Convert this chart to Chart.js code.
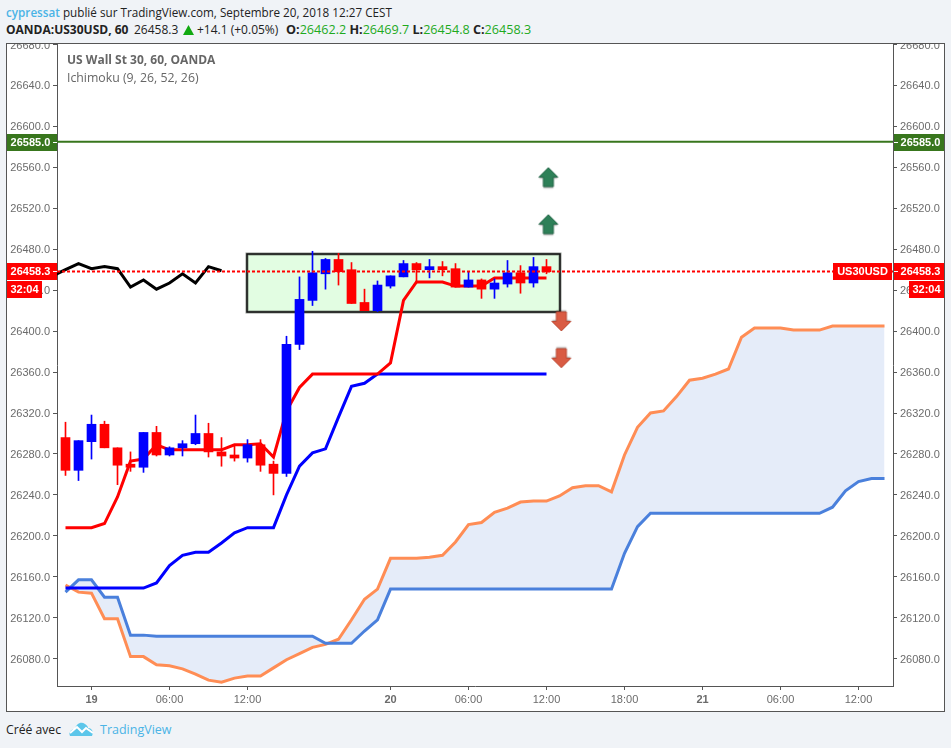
<!DOCTYPE html>
<html>
<head>
<meta charset="utf-8">
<title>US30USD</title>
<script src="https://cdn.jsdelivr.net/npm/chart.js@4"></script>
<style>
  html, body { margin: 0; padding: 0; width: 951px; height: 748px; overflow: hidden; background: #f0f3f7; }
  body { font-family: "Open Sans", sans-serif; color: #222; }
  .abs { position: absolute; white-space: nowrap; }
  #frame { position: absolute; left: 6px; top: 43px; width: 937px; height: 667px; border: 1px solid #555; background: #fff; overflow: hidden; }
  #frame canvas { display: block; margin-top: -20px; }
  .blue { color: #4ab4e6; }
  .green { color: #1eaa1e; }
  b { font-weight: 700; }
</style>
</head>
<body>
<div class="abs" style="left:6px;top:2px;font-size:11.7px;line-height:20px"><span class="blue" style="font-weight:600">cypressat</span> publié sur TradingView.com, Septembre 20, 2018 12:27 CEST</div>
<div class="abs" style="left:6px;top:20px;font-size:12px;line-height:20px"><b>OANDA:US30USD, 60</b>
  <span class="abs" style="left:128px;top:0">26458.3</span>
  <svg class="abs" style="left:177px;top:5px" width="11" height="11"><polygon points="5.5,0 11,10 0,10" fill="#11a911"/></svg>
  <span class="abs" style="left:191px;top:0">+14.1 (+0.05%)</span>
  <span class="abs" style="left:280px;top:0;font-size:12.6px"><b>O:</b><span class="green">26462.2</span> <b>H:</b><span class="green">26469.7</span> <b>L:</b><span class="green">26454.8</span> <b>C:</b><span class="green">26458.3</span></span>
</div>

<div id="frame"><canvas id="chart" width="937" height="687"></canvas></div>

<div class="abs" style="left:67px;top:51px;font-size:12px;line-height:18px;font-weight:700;color:#666">US Wall St 30, 60, OANDA</div>
<div class="abs" style="left:67px;top:69px;font-size:12.3px;line-height:18px;color:#666">Ichimoku (9, 26, 52, 26)</div>

<div class="abs" style="left:6px;top:720px;font-size:12.2px;line-height:20px">Créé avec</div>
<svg class="abs" style="left:69px;top:721px" width="25" height="16" viewBox="0 0 25 16">
  <path d="M1 15 C-1 11 3 8 6 8 C7 3 12 0 16 3 C18 4 19 6 19 7 C23 7 25 11 23 15 Z" fill="#5cc6ea"/>
  <path d="M1 12 L8 6 L13 11 L17 7 L24 12" fill="none" stroke="#fff" stroke-width="2"/>
</svg>
<div class="abs blue" style="left:100px;top:720px;font-size:12.5px;line-height:20px">TradingView</div>

<script>
// hourly bars, index 0 = first candle on the left
var opens  = [26296,26264,26292,26309,26286,26270,26267,26301,26279,26286,26290,26300,26282,26279,26276,26289,26270,26261,26387,26430,26456,26470,26460,26428,26420,26444,26453,26466,26460,26463,26461,26443,26450,26441,26446,26457,26447,26463];
var highs  = [26311,26293,26318,26312,26286,26282,26301,26307,26287,26293,26318,26310,26296,26288,26294,26294,26273,26395,26453,26478,26471,26476,26467,26441,26449,26454,26469,26467,26470,26468,26466,26458,26451,26451,26469,26464,26472,26470];
var lows   = [26259,26254,26275,26286,26250,26263,26262,26278,26278,26278,26289,26277,26268,26273,26272,26263,26240,26258,26382,26425,26441,26445,26427,26420,26419,26442,26453,26447,26452,26454,26443,26443,26432,26432,26443,26437,26443,26456];
var closes = [26264,26293,26309,26286,26269,26267,26301,26279,26286,26290,26300,26282,26278,26276,26289,26269,26261,26387,26431,26457,26470,26458,26427,26420,26445,26454,26466,26460,26463,26460,26443,26450,26441,26447,26457,26447,26463,26458];

// Ichimoku lines
var tenkan = [26208,26208,26208,26212,26238,26273,26275,26289,26284,26284,26284,26284,26284,26289,26289,26290,26277,26322,26345,26358,26358,26358,26358,26358,26358,26369,26430,26448,26448,26448,26444,26444,26444,26452,26452,26452,26452,26452];
var kijun = [26149,26149,26149,26149,26149,26149,26149,26154,26171,26181,26184,26184,26193,26203,26208,26208,26208,26240,26268,26281,26285,26316,26346,26349,26358,26358,26358,26358,26358,26358,26358,26358,26358,26358,26358,26358,26358,26358];
var chikou = [26454,26460,26466,26461,26463,26461,26443,26450,26441,26447,26456,26447,26463,26459];
var spanA = [26152,26145,26144,26119,26119,26082,26082,26074,26073,26070,26065,26059,26057,26061,26063,26063,26071,26079,26085,26091,26094,26099,26118,26138,26148,26178,26178,26178,26179,26181,26194,26211,26213,26223,26227,26233,26234,26234,26239,26247,26249,26249,26243,26279,26306,26320,26322,26336,26352,26354,26358,26363,26394,26403,26403,26403,26401,26401,26401,26405,26405,26405,26405,26405];
var spanB = [26145,26157,26157,26140,26140,26103,26103,26102,26102,26102,26102,26102,26102,26102,26102,26102,26102,26102,26102,26102,26095,26095,26095,26107,26118,26148,26148,26148,26148,26148,26148,26148,26148,26148,26148,26148,26148,26148,26148,26148,26148,26148,26148,26183,26209,26222,26222,26222,26222,26222,26222,26222,26222,26222,26222,26222,26222,26222,26222,26228,26244,26253,26256,26256];

var lastPrice = 26458.3;
var resistance = 26585;
var priceBox = { x: [14, 38.05], y: [26418.4, 26475] };
var upArrows = [{ x: 37.14, y: 26550 }, { x: 37.14, y: 26504 }];
var downArrows = [{ x: 38.14, y: 26410 }, { x: 38.14, y: 26374 }];

var yTicks = [26680,26640,26600,26560,26520,26480,26440,26400,26360,26320,26280,26240,26200,26160,26120,26080];
var xTickIdx = [2,8,14,25,31,37,43,49,55,61];
var xTickText = ['19','06:00','12:00','20','06:00','12:00','18:00','21','06:00','12:00'];
var xBold = ['19','20','21'];

var X_MIN = -0.6538, X_MAX = 63.6538;
var Y_MIN = 26053.3, Y_MAX = 26680.5;
var AXIS_FONT = 'Liberation Sans';

function series(arr, start) {
  return arr.map(function (v, i) { return { x: i + (start || 0), y: v }; });
}

function arrowIcon(up, fill, stroke) {
  var c = document.createElement('canvas');
  c.width = 26; c.height = 26;
  var g = c.getContext('2d');
  g.translate(13, 13);
  if (!up) g.rotate(Math.PI);
  g.beginPath();
  g.moveTo(0, -10); g.lineTo(9.5, -0.5); g.lineTo(5, -0.5); g.lineTo(5, 9);
  g.lineTo(-5, 9); g.lineTo(-5, -0.5); g.lineTo(-9.5, -0.5); g.closePath();
  g.shadowColor = 'rgba(0,0,0,0.35)';
  g.shadowOffsetY = up ? 1.5 : -1.5;
  g.shadowBlur = 1.5;
  g.fillStyle = fill;
  g.fill();
  g.shadowColor = 'transparent';
  g.strokeStyle = stroke;
  g.lineWidth = 1;
  g.stroke();
  return c;
}

// green zone behind the candles
var boxPlugin = {
  id: 'priceBox',
  beforeDatasetsDraw: function (chart) {
    var ctx = chart.ctx, sx = chart.scales.x, sy = chart.scales.y;
    var l = Math.round(sx.getPixelForValue(priceBox.x[0]));
    var r = Math.round(sx.getPixelForValue(priceBox.x[1]));
    var t = Math.round(sy.getPixelForValue(priceBox.y[1]));
    var b = Math.round(sy.getPixelForValue(priceBox.y[0]));
    ctx.save();
    ctx.fillStyle = '#e2fde2';
    ctx.fillRect(l, t, r - l, b - t);
    ctx.strokeStyle = 'rgba(60,70,60,0.55)';
    ctx.lineWidth = 3;
    ctx.strokeRect(l, t, r - l, b - t);
    ctx.strokeStyle = '#111';
    ctx.lineWidth = 1.5;
    ctx.strokeRect(l, t, r - l, b - t);
    ctx.restore();
  }
};

// price tags on both axes
var tagPlugin = {
  id: 'tags',
  afterDraw: function (chart) {
    var ctx = chart.ctx, sy = chart.scales.y, a = chart.chartArea;
    var W = chart.width;
    function tag(x, y, w, h, color, text) {
      ctx.fillStyle = color;
      ctx.fillRect(x, y, w, h);
      ctx.fillStyle = '#fff';
      ctx.textBaseline = 'middle';
      ctx.textAlign = 'center';
      ctx.fillText(text, x + w / 2, y + h / 2 + 0.5);
    }
    function stubs(y) {
      ctx.fillStyle = '#fff';
      ctx.fillRect(a.left - 4, y, 4, 1);
      ctx.fillRect(a.right + 1, y, 4, 1);
    }
    ctx.save();
    ctx.font = 'bold 11px "' + AXIS_FONT + '"';
    var yg = Math.round(sy.getPixelForValue(resistance));
    var yp = Math.round(sy.getPixelForValue(lastPrice));
    tag(0, yg - 8, a.left - 3, 17, '#38761d', '26585.0');
    ctx.fillStyle = '#38761d'; ctx.fillRect(a.left - 3, yg - 8, 3, 17);
    tag(a.right + 4, yg - 8, W - a.right - 4, 17, '#38761d', '26585.0');
    ctx.fillStyle = '#38761d'; ctx.fillRect(a.right + 1, yg - 8, 3, 17);
    stubs(yg);
    tag(0, yp - 8, a.left - 3, 17, '#ff0000', '26458.3');
    ctx.fillStyle = '#ff0000'; ctx.fillRect(a.left - 3, yp - 8, 3, 17);
    tag(a.right + 4, yp - 8, W - a.right - 4, 17, '#ff0000', '26458.3');
    ctx.fillStyle = '#ff0000'; ctx.fillRect(a.right + 1, yp - 8, 3, 17);
    stubs(yp);
    tag(0, yp + 10, 35, 17, '#ff0000', '32:04');
    tag(W - 35, yp + 10, 35, 17, '#ff0000', '32:04');
    tag(a.right - 60, yp - 8, 59, 17, '#ff0000', 'US30USD');
    ctx.restore();
  }
};

var candleColors = closes.map(function (c, i) { return c >= opens[i] ? '#0000ff' : '#ff0000'; });

var config = {
  type: 'line',
  data: {
    datasets: [
      { type: 'line', data: [{ x: X_MIN, y: lastPrice }, { x: X_MAX, y: lastPrice }], borderColor: '#ff0000', borderWidth: 2, borderDash: [3, 2], pointRadius: 0, order: 1 },
      { type: 'line', data: upArrows, showLine: false, pointStyle: arrowIcon(true, '#2e8058', '#26684a'), pointRadius: 10, order: 2 },
      { type: 'line', data: downArrows, showLine: false, pointStyle: arrowIcon(false, '#d95b43', '#bd4a34'), pointRadius: 10, order: 2 },
      { type: 'bar', data: closes.map(function (c, i) { return { x: i, y: [opens[i], c] }; }), backgroundColor: candleColors, barThickness: 9, grouped: false, order: 3 },
      { type: 'bar', data: highs.map(function (h, i) { return { x: i, y: [lows[i], h] }; }), backgroundColor: candleColors, barThickness: 1, grouped: false, order: 4 },
      { type: 'line', data: series(tenkan), borderColor: '#ff0000', borderWidth: 3, pointRadius: 0, order: 5 },
      { type: 'line', data: series(kijun), borderColor: '#0000ff', borderWidth: 3, pointRadius: 0, order: 6 },
      { type: 'line', data: series(chikou, -1), borderColor: '#000', borderWidth: 3, pointRadius: 0, order: 7 },
      { type: 'line', data: [{ x: X_MIN, y: resistance }, { x: X_MAX, y: resistance }], borderColor: '#38761d', borderWidth: 2, pointRadius: 0, order: 8 },
      { type: 'line', data: series(spanA), borderColor: '#ff8d55', borderWidth: 3, pointRadius: 0, fill: '+1', backgroundColor: '#e5ecf9', order: 10 },
      { type: 'line', data: series(spanB), borderColor: '#4a80dc', borderWidth: 3, pointRadius: 0, order: 9 }
    ]
  },
  options: {
    responsive: false,
    animation: false,
    layout: { padding: { top: 20 } },
    plugins: { legend: { display: false }, tooltip: { enabled: false } },
    scales: {
      x: {
        type: 'linear',
        offset: false,
        min: X_MIN,
        max: X_MAX,
        afterBuildTicks: function (s) { s.ticks = xTickIdx.map(function (v) { return { value: v }; }); },
        afterFit: function (s) { s.height = 25; },
        grid: { offset: false, drawOnChartArea: false, tickLength: 4, color: '#555' },
        border: { color: '#555' },
        ticks: {
          autoSkip: false,
          maxRotation: 0,
          padding: 3,
          color: '#6b6b6b',
          font: function (c) {
            var t = c.tick ? xTickText[xTickIdx.indexOf(c.tick.value)] : '';
            return { family: AXIS_FONT, size: 11, weight: xBold.indexOf(t) >= 0 ? 'bold' : 'normal' };
          },
          callback: function (v) { return xTickText[xTickIdx.indexOf(v)]; }
        }
      },
      y: {
        position: 'left',
        min: Y_MIN,
        max: Y_MAX,
        afterBuildTicks: function (s) { s.ticks = yTicks.map(function (v) { return { value: v }; }); },
        afterFit: function (s) { s.width = 50; },
        grid: { drawOnChartArea: false, tickLength: 4, color: '#555' },
        border: { color: '#555' },
        ticks: { autoSkip: false, padding: 3, labelOffset: 1, color: '#6b6b6b', font: { family: AXIS_FONT, size: 11 }, callback: function (v) { return v.toFixed(1); } }
      },
      y2: {
        position: 'right',
        min: Y_MIN,
        max: Y_MAX,
        afterBuildTicks: function (s) { s.ticks = yTicks.map(function (v) { return { value: v }; }); },
        afterFit: function (s) { s.width = 51; },
        grid: { drawOnChartArea: false, tickLength: 4, color: '#555' },
        border: { color: '#555' },
        ticks: { autoSkip: false, padding: 3, labelOffset: 1, color: '#6b6b6b', font: { family: AXIS_FONT, size: 11 }, callback: function (v) { return v.toFixed(1); } }
      }
    }
  },
  plugins: [boxPlugin, tagPlugin]
};

new Chart(document.getElementById('chart').getContext('2d'), config);
</script>
</body>
</html>
